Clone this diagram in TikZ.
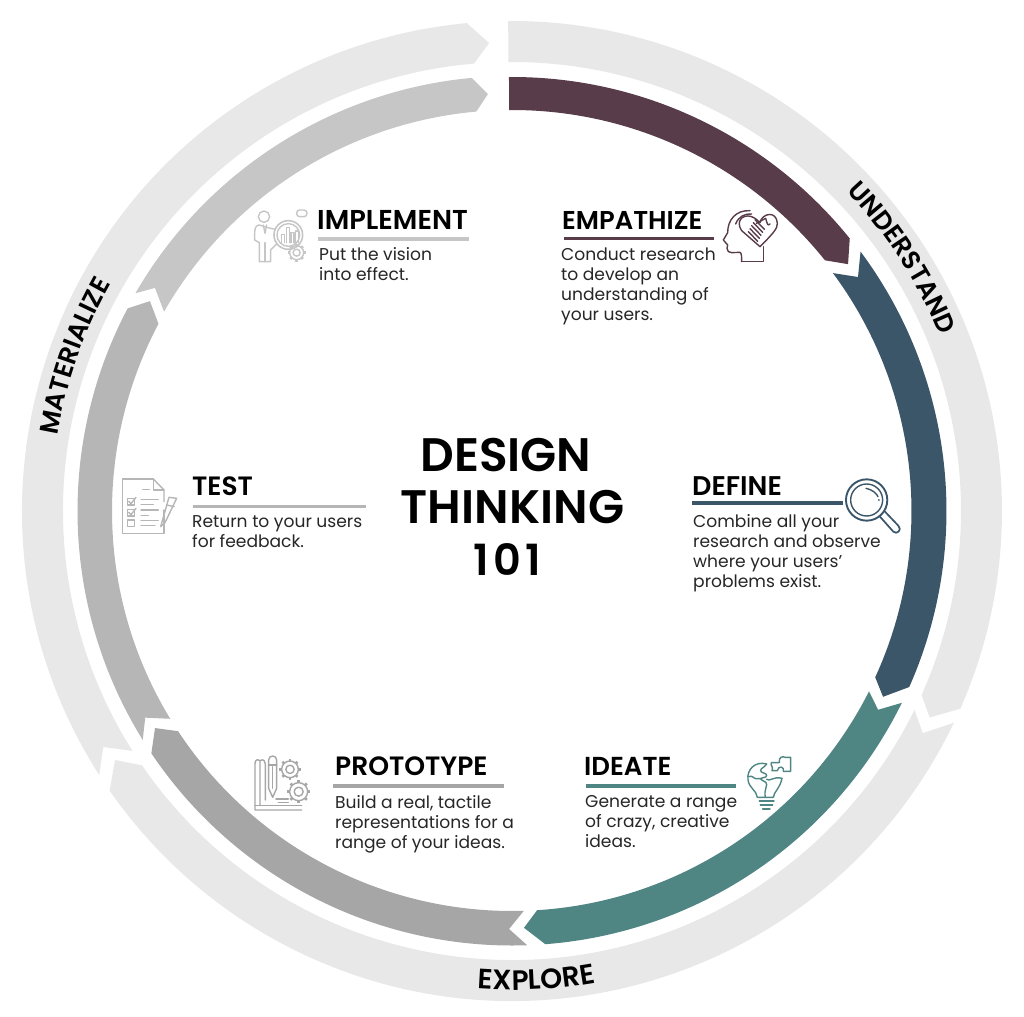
\documentclass[tikz,border=0pt]{standalone}
\usepackage{fontspec}
\usetikzlibrary{decorations.text}
\setmainfont[BoldFont={Poppins SemiBold}]{Poppins}
\definecolor{ringlight}{HTML}{E8E8E8}
\definecolor{cemp}{HTML}{583C4A}
\definecolor{cdef}{HTML}{3B5669}
\definecolor{cide}{HTML}{4F8582}
\definecolor{cpro}{HTML}{A6A6A6}
\definecolor{ctes}{HTML}{B6B6B6}
\definecolor{cimp}{HTML}{C6C6C6}
\tikzset{
  headtxt/.style={anchor=base west,inner sep=0pt,font=\fontsize{26.5}{26.5}\selectfont\bfseries,text=black},
  bodytxt/.style={anchor=north west,inner sep=0pt,align=left,font=\fontsize{17.1}{20}\selectfont,text=black!85},
  titletxt/.style={anchor=base,inner sep=0pt,font=\fontsize{47}{47}\selectfont\bfseries,text=black},
  rulebar/.style={line width=3.4pt},
  iconline/.style={line width=1.4pt,line cap=round,line join=round,fill=none},
}
% colour, outer r, inner r, outer start, outer end, inner end, inner start, tip, notch
\newcommand{\ringseg}[9]{\fill[#1] (#4:#2) arc[start angle=#4,end angle=#5,radius=#2] -- (#8) -- (#6:#3) arc[start angle=#6,end angle=#7,radius=#3] -- (#9) -- cycle;}
\newcommand{\gearicon}[3]{% x y r in current coordinates
  \draw[iconline] (#1,#2) circle[radius=#3];
  \draw[iconline] (#1,#2) circle[radius=0.5*#3];
  \foreach \ang in {0,45,...,315}{\draw[iconline,line width=2.6pt,line cap=butt] ([shift={(#1,#2)}]\ang:#3) -- ([shift={(#1,#2)}]\ang:1.28*#3);}
}
\begin{document}
\begin{tikzpicture}[x=1pt,y=1pt]
\useasboundingbox (-512,-505) rectangle (512,511);
% ---- outer ring
\ringseg{ringlight}{490}{449}{90.45}{-23.8}{-24.2}{90.45}{-26.3:466}{90.45:470}
\ringseg{ringlight}{490}{449}{-25.6}{-145.2}{-145.5}{-26.3}{-147.9:468.6}{-28.4:467}
\ringseg{ringlight}{490}{449}{-147.4}{-264.7}{-265.15}{-147.7}{-267.2:468.6}{-150:472}
% ---- inner ring
\ringseg{cemp}{434}{401}{90.4}{38.9}{38.7}{90.4}{36.3:417}{90.4:418}
\ringseg{cdef}{434.5}{399.5}{36.66}{-23.9}{-24.6}{36.55}{-26.6:415}{34.07:417.7}
\ringseg{cide}{434.5}{400}{-26.2}{-85.6}{-86.4}{-26.8}{-88.35:417}{-28.5:416.6}
\ringseg{cpro}{434.5}{400}{-88}{-146.1}{-146.6}{-88.3}{-148.7:417.8}{-90.4:418}
\ringseg{ctes}{434.5}{400}{-148.2}{-207.8}{-207.9}{-148.7}{-210.1:418.5}{-150.6:421}
\ringseg{cimp}{435}{401}{149.96}{95.3}{95.1}{150.2}{93.3:417.7}{148:421}
% ---- ring labels
\path[postaction={decorate,decoration={text along path,text align=center,
   text={|\fontsize{26}{26}\selectfont\bfseries|UNDERSTAND}}}] (48:462.5) arc[start angle=48,end angle=18,radius=462.5];
\path[postaction={decorate,decoration={text along path,text align=center,
   text={|\fontsize{26}{26}\selectfont\bfseries|MATERIALIZE}}}] (184:461) arc[start angle=184,end angle=137,radius=461];
\path[postaction={decorate,decoration={text along path,text align=center,
   text={|\fontsize{28}{28}\selectfont\bfseries|EXPLORE}}}] (-100:479) arc[start angle=-100,end angle=-74,radius=479];
% ---- everything below in reference pixel coordinates
\begin{scope}[shift={(-512,511)},y=-1pt]
\node[titletxt] (t1) at (506,472) {DESIGN};
\node[titletxt] (t2) at (512.5,524) {THINKING};
\node[titletxt,font=\fontsize{43}{43}\selectfont\bfseries\addfontfeature{LetterSpace=10}] (t3) at (507.5,576) {101};
% EMPATHIZE
\node[headtxt,font=\fontsize{25.8}{26}\selectfont\bfseries] (hemp) at (562,230) {EMPATHIZE};
\draw[cemp,rulebar] (564,238.5) -- (714,238.5);
\node[bodytxt] (bemp) at (561,247.5) {Conduct research\\to develop an\\understanding of\\your users.};
% IMPLEMENT
\node[headtxt,font=\fontsize{27.3}{27}\selectfont\bfseries] (himp) at (317,230) {IMPLEMENT};
\draw[cimp,rulebar] (318,239) -- (469,239);
\node[bodytxt] (bimp) at (319,247.5) {Put the vision\\into effect.};
% DEFINE
\node[headtxt,font=\fontsize{27}{27}\selectfont\bfseries] (hdef) at (692,496) {DEFINE};
\draw[cdef,rulebar] (692,503) -- (843,503);
\node[bodytxt] (bdef) at (693,514.5) {Combine all your\\research and observe\\where your users’\\problems exist.};
% TEST
\node[headtxt] (htes) at (192,496) {TEST};
\draw[ctes,rulebar] (193,506.5) -- (366,506.5);
\node[bodytxt] (btes) at (192,515.5) {Return to your users\\for feedback.};
% IDEATE
\node[headtxt,font=\fontsize{26}{26}\selectfont\bfseries] (hide) at (584,775) {IDEATE};
\draw[cide,rulebar] (586,786) -- (736,786);
\node[bodytxt] (bide) at (585,795.5) {Generate a range\\of crazy, creative\\ideas.};
% PROTOTYPE
\node[headtxt] (hpro) at (335,775) {PROTOTYPE};
\draw[cpro,rulebar] (333,786) -- (504,786);
\node[bodytxt] (bpro) at (335,795.5) {Build a real, tactile\\representations for a\\range of your ideas.};
% ---- icons, in 3x zoom coordinates
% head with heart
\begin{scope}[shift={(715,200)},x=0.3333pt,y=-0.3333pt,cemp]
 \draw[iconline] (80,185) .. controls (80,170) and (80,160) .. (75,157) -- (50,158) .. controls (42,160) and (36,152) .. (36,145) -- (38,135) -- (25,120) -- (38,98) .. controls (38,60) and (62,30) .. (105,32);
 \draw[iconline] (80,185) -- (145,185) -- (145,140);
 \draw[iconline] (135,140) -- (80,92) .. controls (58,60) and (90,35) .. (120,55) .. controls (130,62) and (132,66) .. (135,68);
 \draw[iconline] (135,68) .. controls (140,40) and (185,30) .. (187,70) .. controls (188,85) and (175,100) .. (135,140);
 \draw[iconline] (62,72) .. controls (70,50) and (90,40) .. (110,42);
 \foreach \k in {0,1,2,3,4}{\draw[iconline] (100+5*\k,95-9*\k) -- (128+5*\k,124-9*\k);}
 \draw[iconline] (124,70) -- (152,55) .. controls (158,75) and (158,78) .. (165,72);
\end{scope}
% magnifier
\begin{scope}[shift={(680,460)},x=0.3333pt,y=-0.3333pt,cdef]
 \draw[iconline,line width=1.9pt] (560,120) circle[radius=62];
 \draw[iconline] (560,120) circle[radius=48];
 \draw[iconline] (558,85) .. controls (575,88) and (590,100) .. (594,110);
 \fill (597,120) circle[radius=3];
 \draw[iconline,line width=1.7pt] (600,170) -- (640,215) .. controls (650,225) and (668,210) .. (655,197) -- (615,155);
\end{scope}
% person, chart, gear
\begin{scope}[shift={(100,170)},x=0.3333pt,y=-0.3333pt,cimp]
 \draw[iconline] (492,140) circle[radius=17];
 \draw[iconline] (525,178) -- (500,172) -- (478,165) .. controls (468,165) and (464,175) .. (464,190) -- (464,210) -- (478,218) -- (478,275) -- (512,275) -- (512,240) -- (530,222);
 \draw[iconline] (495,218) -- (495,275);
 \draw[iconline] (490,165) -- (495,190) -- (500,165);
 \draw[iconline,line width=1.6pt] (565,195) circle[radius=43];
 \draw[iconline] (565,195) circle[radius=34];
 \foreach \xa/\ha in {545/25,560/45,573/30,586/35}{\draw[iconline] (\xa,218) -- (\xa,218-\ha) -- (\xa+9,218-\ha) -- (\xa+9,218);}
 \draw[iconline,rounded corners=3pt] (590,120) rectangle (621,140);
 \gearicon{590}{248}{21}
\end{scope}
% checklist
\begin{scope}[shift={(90,460)},x=0.3333pt,y=-0.3333pt,ctes]
 \draw[iconline] (190,57) -- (97,57) -- (97,220) -- (222,220) -- (222,150);
 \draw[iconline] (190,57) -- (222,90) -- (222,125);
 \draw[iconline] (190,57) -- (190,90) -- (222,90);
 \draw[iconline] (158,88) -- (178,88);
 \draw[iconline] (112,115) rectangle (134,135);
 \draw[iconline] (112,148) rectangle (134,168);
 \draw[iconline] (112,180) rectangle (134,200);
 \draw[iconline] (116,124) -- (123,131) -- (138,112);
 \draw[iconline] (116,157) -- (123,164) -- (138,145);
 \foreach \ya/\xb in {118/205,134/190,150/205,166/175,182/205,196/195}{\draw[iconline] (153,\ya) -- (\xb,\ya);}
 \draw[iconline] (212,200) -- (237,112) -- (260,115) -- (225,188) -- (212,200);
 \draw[iconline] (230,135) -- (253,140);
\end{scope}
% bulb with puzzle piece
\begin{scope}[shift={(570,740)},x=0.3333pt,y=-0.3333pt,cide]
 \draw[iconline] (590,72) .. controls (555,62) and (530,90) .. (534,118) .. controls (536,145) and (560,150) .. (562,172) -- (610,172) .. controls (612,155) and (630,145) .. (636,115);
 \draw[iconline] (568,183) -- (612,183);
 \draw[iconline] (571,195) -- (608,195);
 \draw[iconline] (578,207) -- (600,207);
 % jigsaw seams inside the bulb
 \draw[iconline] (590,72) .. controls (582,84) and (572,84) .. (572,92) .. controls (572,100) and (590,98) .. (590,106) .. controls (590,114) and (576,112) .. (572,116);
 \draw[iconline] (536,110) .. controls (548,104) and (552,118) .. (560,116) .. controls (566,114) and (568,116) .. (572,116);
 \draw[iconline] (572,116) .. controls (578,126) and (590,122) .. (590,134) .. controls (590,146) and (582,150) .. (586,172);
 \draw[iconline] (590,118) .. controls (600,126) and (610,108) .. (636,115);
 % loose piece
 \draw[iconline] (604,68) -- (628,68) .. controls (625,50) and (640,48) .. (645,52) -- (662,52) -- (662,94) -- (640,94) .. controls (645,80) and (625,75) .. (622,92) -- (606,92) .. controls (612,82) and (600,75) .. (604,68);
\end{scope}
% pencil, book, gears
\begin{scope}[shift={(240,740)},x=0.3333pt,y=-0.3333pt,cpro]
 \draw[iconline] (60,197) -- (60,62) .. controls (50,55) and (45,62) .. (45,72) -- (45,210) -- (185,210);
 \draw[iconline] (60,197) -- (185,197) ;
 \draw[iconline] (60,62) .. controls (72,55) and (76,65) .. (76,72) -- (76,180);
 \draw[iconline] (45,197) -- (60,197);
 \draw[iconline] (86,60) .. controls (86,44) and (110,44) .. (110,60) -- (110,145) -- (98,172) -- (86,145) -- cycle;
 \draw[iconline] (86,75) -- (110,75);
 \draw[iconline] (98,80) -- (98,145);
 \draw[iconline] (108,177) -- (145,177);
 \draw[iconline] (115,187) -- (145,187);
 \gearicon{150}{88}{25}
 \gearicon{176}{155}{27}
\end{scope}
\end{scope}
\end{tikzpicture}
\end{document}
